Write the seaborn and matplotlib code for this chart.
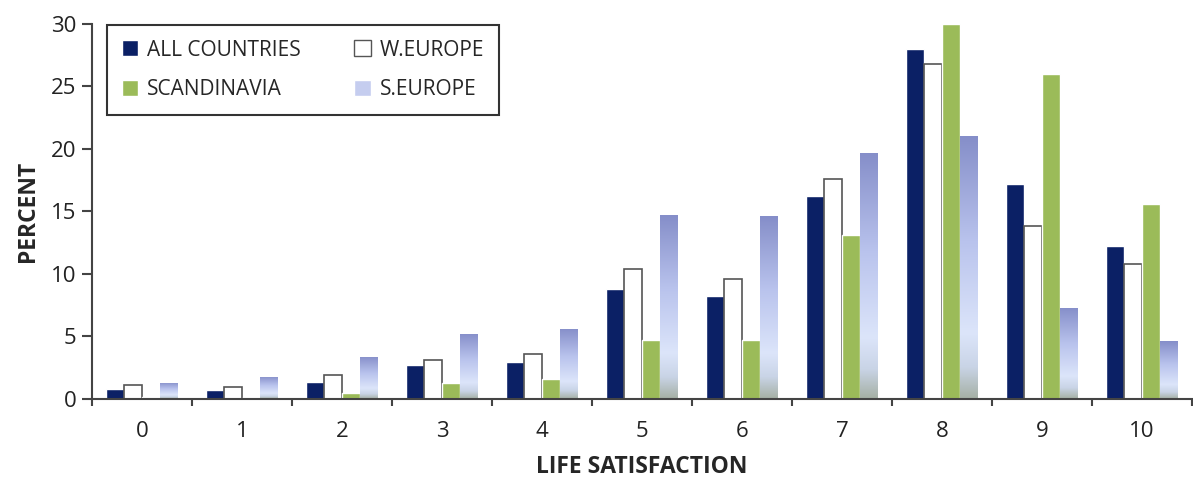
import numpy as np
import pandas as pd
import matplotlib
matplotlib.use("Agg")
import matplotlib.pyplot as plt
from matplotlib.colors import LinearSegmentedColormap
from matplotlib.patches import Patch
import seaborn as sns

# data
scores = [0, 1, 2, 3, 4, 5, 6, 7, 8, 9, 10]
all_countries = [0.8, 0.7, 1.4, 2.7, 3.0, 8.8, 8.2, 16.2, 28.0, 17.2, 12.2]
w_europe = [1.1, 1.0, 1.9, 3.1, 3.6, 10.4, 9.6, 17.6, 26.8, 13.8, 10.8]
scandinavia = [0.2, 0.05, 0.5, 1.3, 1.6, 4.7, 4.7, 13.1, 30.0, 26.0, 15.6]
s_europe = [1.3, 1.8, 3.4, 5.2, 5.6, 14.7, 14.6, 19.7, 21.0, 7.3, 4.6]
regions = ["ALL COUNTRIES", "W.EUROPE", "SCANDINAVIA", "S.EUROPE"]

df = pd.DataFrame({
    "score": scores * 4,
    "pct": all_countries + w_europe + scandinavia + s_europe,
    "region": np.repeat(regions, len(scores)),
})

sns.set_theme(style="white")
plt.rcParams["font.family"] = ["Open Sans", "DejaVu Sans"]

colors = {"ALL COUNTRIES": "#0b2065", "W.EUROPE": "#ffffff",
          "SCANDINAVIA": "#9bbb59", "S.EUROPE": "#c5cdef"}

fig = plt.figure(figsize=(11.93, 4.79), dpi=100)
ax = fig.add_axes([0.0771, 0.167, 0.922, 0.783])

sns.barplot(data=df, x="score", y="pct", hue="region", hue_order=regions,
            palette=colors, width=0.72, saturation=1, legend=False, ax=ax)

# white bars get a grey outline
for bar in ax.containers[1]:
    bar.set_edgecolor("#555555")
    bar.set_linewidth(1.2)

# gradient fill for S.EUROPE bars
grad = LinearSegmentedColormap.from_list(
    "seu", [(0.0, "#a5b0a4"), (0.12, "#c9d4e6"), (0.25, "#dce5fa"),
            (0.6, "#b9c3ed"), (1.0, "#858ec9")])
g = np.linspace(0, 1, 256).reshape(-1, 1)
for bar in ax.containers[3]:
    x0, y0 = bar.get_x(), bar.get_y()
    w, h = bar.get_width(), bar.get_height()
    bar.set_facecolor("none")
    bar.set_edgecolor("none")
    im = ax.imshow(g, cmap=grad, origin="lower", aspect="auto",
                   extent=[x0, x0 + w, y0, y0 + h], zorder=bar.get_zorder())
    im.set_clip_path(bar)

ax.set_xlim(-0.5, len(scores) - 0.5)
ax.set_ylim(0, 30)
ax.set_yticks([0, 5, 10, 15, 20, 25, 30])
ax.set_xticks(range(len(scores)))
ax.set_xticklabels([str(s) for s in scores])
ax.set_xticks(np.arange(-0.5, len(scores), 1.0), minor=True)

for side in ["top", "right"]:
    ax.spines[side].set_visible(False)
for side in ["left", "bottom"]:
    ax.spines[side].set_color("#444444")
    ax.spines[side].set_linewidth(1.5)

ax.tick_params(axis="y", which="major", direction="out", length=7, width=1.5,
               color="#444444", left=True, labelsize=16, labelcolor="#222222",
               pad=4)
ax.tick_params(axis="x", which="major", length=0, labelsize=16,
               labelcolor="#222222", pad=16)
ax.tick_params(axis="x", which="minor", direction="out", length=5, width=1.5,
               color="#444444", bottom=True)

ax.set_xlabel("LIFE SATISFACTION", fontsize=16.5, fontweight="bold",
              labelpad=9)
ax.set_ylabel("PERCENT", fontsize=16.5, fontweight="bold", labelpad=8)

handles = [Patch(facecolor=colors["ALL COUNTRIES"]),
           Patch(facecolor=colors["SCANDINAVIA"]),
           Patch(facecolor="white", edgecolor="#555555"),
           Patch(facecolor=colors["S.EUROPE"])]
labels = ["ALL COUNTRIES", "SCANDINAVIA", "W.EUROPE", "S.EUROPE"]
leg = ax.legend(handles, labels, ncol=2, loc="upper left",
                bbox_to_anchor=(0.0136, 0.997), borderaxespad=0,
                frameon=True, fancybox=False, edgecolor="black", fontsize=15,
                handlelength=0.8, handleheight=0.8, handletextpad=0.4,
                columnspacing=2.6, labelspacing=0.9, borderpad=0.7)
leg.get_frame().set_linewidth(1.5)

fig.savefig("out.png", dpi=100)
